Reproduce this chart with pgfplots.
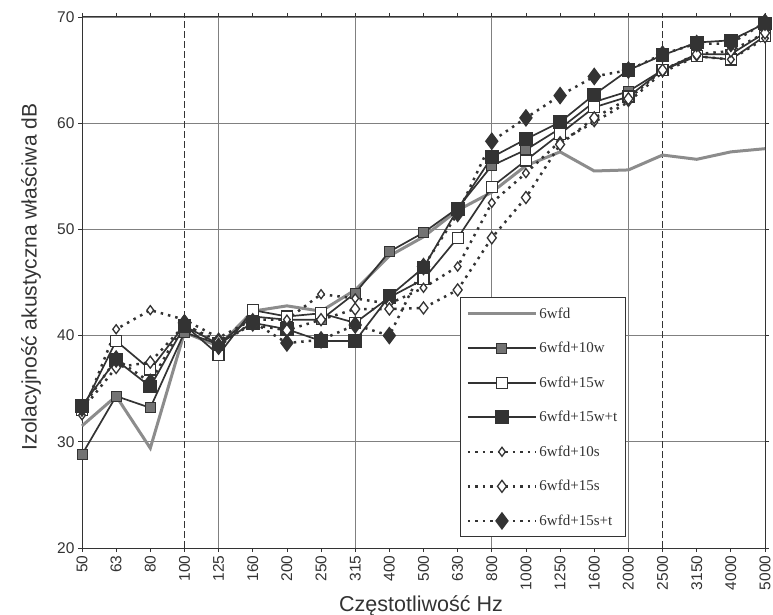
\documentclass[border=0pt]{standalone}
\usepackage{fontspec}
\setmainfont{Liberation Sans}
\newfontfamily\legfont{Liberation Serif}
\usepackage{pgfplots}
\usepackage{pgfplotstable}
\pgfplotsset{compat=1.18}
\definecolor{ink}{gray}{0.2}
\definecolor{lgray}{gray}{0.55}
\definecolor{mgray}{gray}{0.45}
\definecolor{gridc}{gray}{0.5}

\pgfplotstableread{
x a b c d e f g
0 31.5 28.8 33.0 33.4 32.5 33.0 33.2
1 34.3 34.3 39.5 37.7 40.6 37.0 37.8
2 29.4 33.2 36.8 35.2 42.4 37.5 35.6
3 40.3 40.3 41.0 40.9 41.5 41.0 41.2
4 39.0 39.2 38.2 39.2 39.8 39.5 39.0
5 42.3 41.8 42.4 41.2 41.5 41.0 41.3
6 42.8 41.5 41.8 40.6 41.5 40.5 39.3
7 42.3 41.5 42.1 39.5 43.9 41.5 39.6
8 44.3 44.0 41.2 39.5 43.5 42.5 41.0
9 47.5 47.9 43.6 43.7 43.0 42.5 40.0
10 49.3 49.7 45.3 46.4 44.5 42.6 46.5
11 51.8 52.0 49.2 51.9 46.5 44.3 51.5
12 53.5 56.0 54.0 56.8 52.5 49.2 58.3
13 56.0 57.5 56.5 58.5 55.3 53.0 60.5
14 57.3 59.5 59.0 60.1 58.3 58.0 62.6
15 55.5 62.0 61.5 62.7 60.1 60.5 64.4
16 55.6 63.0 62.5 65.0 62.0 62.3 65.0
17 57.0 65.0 65.0 66.4 64.8 65.0 66.5
18 56.6 66.5 66.3 67.6 66.3 66.5 67.5
19 57.3 66.5 66.0 67.8 66.0 66.8 67.5
20 57.6 68.5 68.2 69.4 68.0 68.5 69.5
}\data

\begin{document}
\begin{tikzpicture}[x=1pt,y=1pt]
\begin{axis}[
  at={(82pt,66pt)}, anchor=south west,
  scale only axis, width=683pt, height=531pt,
  xmin=0, xmax=20, ymin=20, ymax=70,
  xtick={0,...,20},
  xticklabels={50,63,80,100,125,160,200,250,315,400,500,630,800,1000,1250,1600,2000,2500,3150,4000,5000},
  x tick label style={rotate=90, anchor=east, font=\fontsize{15.5}{18}\selectfont, color=ink},
  ytick={20,30,...,70},
  y tick label style={font=\fontsize{15.5}{18}\selectfont, color=ink},
  /pgf/number format/assume math mode=true,
  ymajorgrids,
  extra x ticks={4,8,12,16}, extra x tick labels={},
  extra x tick style={grid=major, major tick length=0pt},
  grid style={gridc, line width=0.8pt},
  axis line style={ink, line width=1pt},
  tick style={ink, line width=0.8pt},
  tick align=outside, major tick length=4pt,
  clip=false,
  legend style={at={(0.5534,0.4727)}, anchor=north west, draw=ink, line width=1pt,
    fill=white, font=\legfont\fontsize{15}{16}\selectfont, text=ink,
    row sep=18.5pt, inner xsep=6pt, inner ysep=8pt, cells={anchor=west}},
  legend image code/.code={\draw[mark repeat=2,mark phase=2,#1] plot coordinates {(0pt,0pt) (34pt,0pt) (68pt,0pt)};},
]
\draw[ink, line width=1.4pt, dash pattern=on 7pt off 3pt] (axis cs:3,20) -- (axis cs:3,70);
\draw[ink, line width=1.4pt, dash pattern=on 7pt off 3pt] (axis cs:17,20) -- (axis cs:17,70);

\addplot[lgray, line width=3pt] table[x=x,y=a]{\data};
\addlegendentry{6wfd}
\addplot[ink, line width=1.7pt, mark=square*, mark size=5pt, mark options={solid, fill=mgray, draw=ink, line width=1pt}] table[x=x,y=b]{\data};
\addlegendentry{6wfd+10w}
\addplot[ink, line width=1.7pt, mark=square*, mark size=5.5pt, mark options={solid, fill=white, draw=ink, line width=1.3pt}] table[x=x,y=c]{\data};
\addlegendentry{6wfd+15w}
\addplot[ink, line width=1.7pt, mark=square*, mark size=6pt, mark options={solid, fill=ink, draw=ink}] table[x=x,y=d]{\data};
\addlegendentry{6wfd+15w+t}
\addplot[ink, line width=2.5pt, dash pattern=on 2.5pt off 5pt, mark=diamond*, mark size=4.5pt, mark options={solid, fill=white, draw=ink, line width=1.3pt}] table[x=x,y=e]{\data};
\addlegendentry{6wfd+10s}
\addplot[ink, line width=2.5pt, dash pattern=on 2.5pt off 5pt, mark=diamond*, mark size=6pt, mark options={solid, fill=white, draw=ink, line width=1.3pt}] table[x=x,y=f]{\data};
\addlegendentry{6wfd+15s}
\addplot[ink, line width=2.5pt, dash pattern=on 2.5pt off 5pt, mark=diamond*, mark size=7pt, mark options={solid, fill=ink, draw=ink}] table[x=x,y=g]{\data};
\addlegendentry{6wfd+15s+t}
\end{axis}
\node[rotate=90, font=\fontsize{21}{24}\selectfont, text=ink] at (31,337) {Izolacyjność akustyczna właściwa dB};
\node[anchor=base, font=\fontsize{21.5}{24}\selectfont, text=ink] at (421,3) {Częstotliwość Hz};
\pgfresetboundingbox
\path (0,0) rectangle (773,614);
\end{tikzpicture}
\end{document}
